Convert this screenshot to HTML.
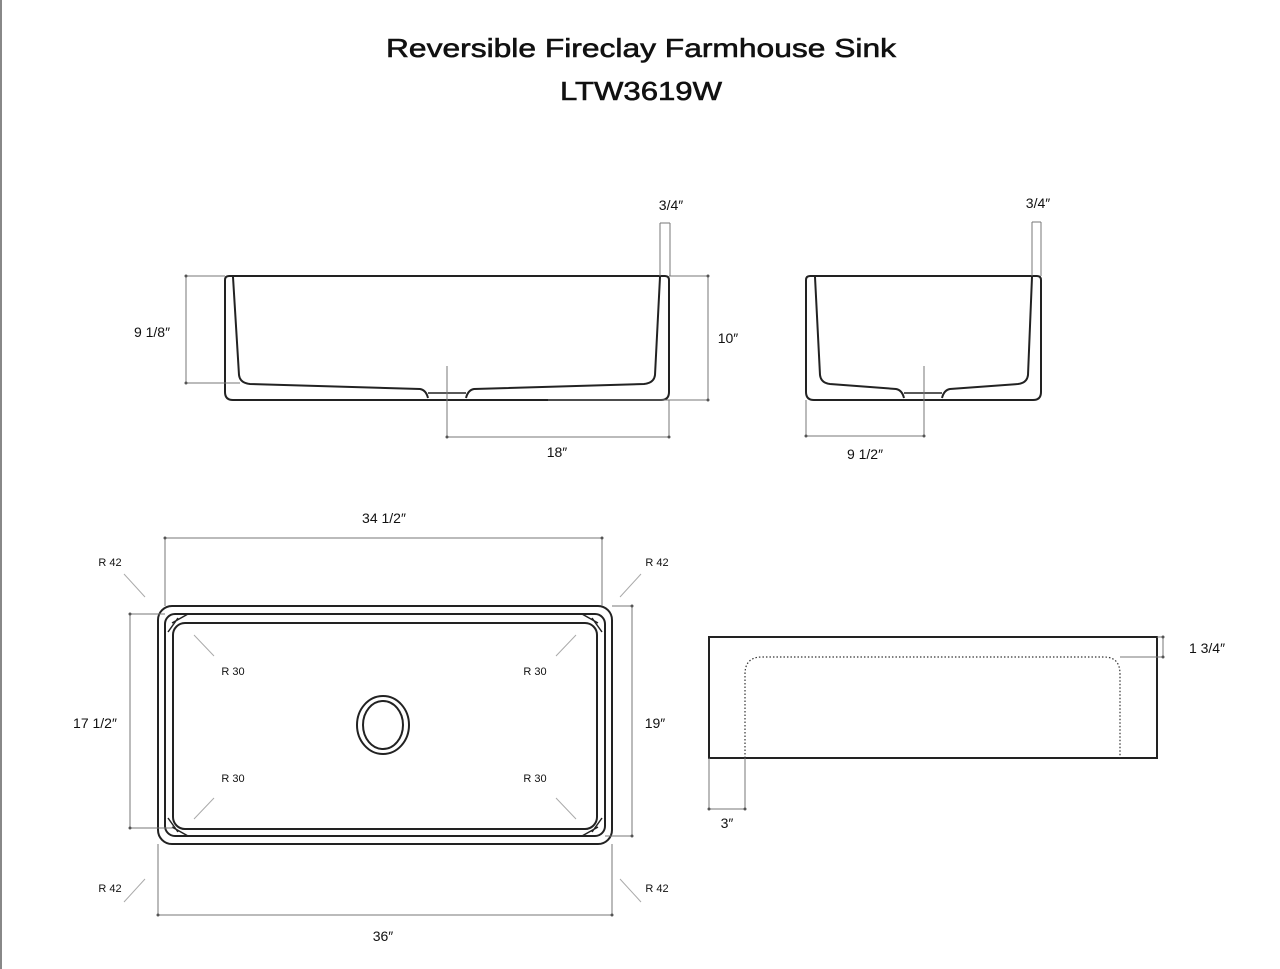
<!DOCTYPE html>
<html><head><meta charset="utf-8"><style>
html,body{margin:0;padding:0;background:#fff;}
svg{display:block;}
text{font-family:"Liberation Sans",sans-serif;fill:#111;}
</style></head><body>
<svg width="1280" height="969" viewBox="0 0 1280 969" xmlns="http://www.w3.org/2000/svg">
<rect width="1280" height="969" fill="#fff"/>
<line x1="1" y1="0" x2="1" y2="969" stroke="#888" stroke-width="2"/>
<text x="641" y="57" font-size="26" text-anchor="middle" textLength="510" lengthAdjust="spacingAndGlyphs" stroke="#111" stroke-width="0.6">Reversible Fireclay Farmhouse Sink</text>
<text x="641" y="100" font-size="26" text-anchor="middle" textLength="162" lengthAdjust="spacingAndGlyphs" stroke="#111" stroke-width="0.6">LTW3619W</text>

<g fill="none" stroke="#222" stroke-width="2">
<path d="M229 276 H665 Q669 276 669 280 V392 Q669 400 661 400 H233 Q225 400 225 392 V280 Q225 276 229 276 Z"/>
<path d="M233 277 L239 375 Q240 383 250 384 L420 389 Q426 390 428 398 M660 277 L655 375 Q654 383 644 384 L474 389 Q468 390 466 398"/>
<line x1="428" y1="393" x2="466" y2="393" stroke-width="1.5"/>
<path d="M810 276 H1037 Q1041 276 1041 280 V392 Q1041 400 1033 400 H814 Q806 400 806 392 V280 Q806 276 810 276 Z"/>
<path d="M815 277 L820 375 Q821 383 830 384 L896 389 Q902 390 904 398 M1032 277 L1028 375 Q1027 383 1018 384 L950 389 Q944 390 942 398"/>
<line x1="904" y1="393" x2="942" y2="393" stroke-width="1.5"/>
<rect x="158" y="606" width="454" height="238" rx="14"/>
<rect x="165" y="614" width="440" height="222" rx="10"/>
<rect x="173" y="623" width="424" height="206" rx="12"/>
<ellipse cx="383" cy="725" rx="26" ry="29"/>
<ellipse cx="383" cy="725" rx="20" ry="24"/>
<path d="M168 632 L178 618 M188 614 L172 623 M602 632 L592 618 M582 614 L598 623 M168 818 L178 832 M188 836 L172 827 M602 818 L592 832 M582 836 L598 827" stroke-width="1.5"/>
<rect x="709" y="637" width="448" height="121"/>
</g>
<path d="M745 758 V674 Q745 657 762 657 H1104 Q1120 657 1120 674 V758" fill="none" stroke="#333" stroke-width="1.2" stroke-dasharray="1.5,2"/>

<g stroke="#777" stroke-width="1" fill="none">
<path d="M186 276 V383 M186 276 H225 M186 383 H240"/>
<path d="M708 276 V400 M669 276 H708 M548 400 H708"/>
<path d="M660 223 V276 M670 223 V276 M660 223 H670"/>
<path d="M447 366 V437 M447 437 H669 M669 400 V437"/>
<path d="M1032 222 V276 M1041 222 V276 M1032 222 H1041"/>
<path d="M806 400 V436 M806 436 H924 M924 366 V436"/>
<path d="M165 538 H602 M165 538 V606 M602 538 V606"/>
<path d="M130 614 V828 M130 614 H165 M130 828 H173"/>
<path d="M632 606 V836 M612 606 H632 M605 836 H632"/>
<path d="M158 844 V915 M612 844 V915 M158 915 H612"/>
<path d="M1163 637 V657 M1157 637 H1163 M1120 657 H1163"/>
<path d="M709 758 V809 M745 758 V809 M709 809 H745"/>
</g>
<g stroke="#aaa" stroke-width="1">
<path d="M124 574 L145 597 M641 574 L620 597 M124 902 L145 879 M641 902 L620 879"/>
<path d="M194 635 L214 656 M576 635 L556 656 M194 819 L214 798 M576 819 L556 798"/>
</g>
<g fill="#555">
<circle cx="186" cy="276" r="1.5"/><circle cx="186" cy="383" r="1.5"/><circle cx="708" cy="276" r="1.5"/><circle cx="708" cy="400" r="1.5"/>
<circle cx="447" cy="437" r="1.5"/><circle cx="669" cy="437" r="1.5"/><circle cx="806" cy="436" r="1.5"/><circle cx="924" cy="436" r="1.5"/>
<circle cx="165" cy="538" r="1.5"/><circle cx="602" cy="538" r="1.5"/><circle cx="130" cy="614" r="1.5"/><circle cx="130" cy="828" r="1.5"/>
<circle cx="632" cy="606" r="1.5"/><circle cx="632" cy="836" r="1.5"/><circle cx="158" cy="915" r="1.5"/><circle cx="612" cy="915" r="1.5"/>
<circle cx="1163" cy="637" r="1.5"/><circle cx="1163" cy="657" r="1.5"/><circle cx="709" cy="809" r="1.5"/><circle cx="745" cy="809" r="1.5"/>
</g>

<g font-size="14" text-anchor="middle">
<text x="671" y="210">3/4″</text>
<text x="1038" y="208">3/4″</text>
<text x="152" y="337">9 1/8″</text>
<text x="728" y="343">10″</text>
<text x="557" y="457">18″</text>
<text x="865" y="459">9 1/2″</text>
<text x="384" y="523">34 1/2″</text>
<text x="95" y="728">17 1/2″</text>
<text x="655" y="728">19″</text>
<text x="383" y="941">36″</text>
<text x="1207" y="653">1 3/4″</text>
<text x="727" y="828">3″</text>
</g>
<g font-size="11" text-anchor="middle">
<text x="110" y="566">R 42</text>
<text x="657" y="566">R 42</text>
<text x="110" y="892">R 42</text>
<text x="657" y="892">R 42</text>
<text x="233" y="675">R 30</text>
<text x="535" y="675">R 30</text>
<text x="233" y="782">R 30</text>
<text x="535" y="782">R 30</text>
</g>
</svg>
</body></html>
